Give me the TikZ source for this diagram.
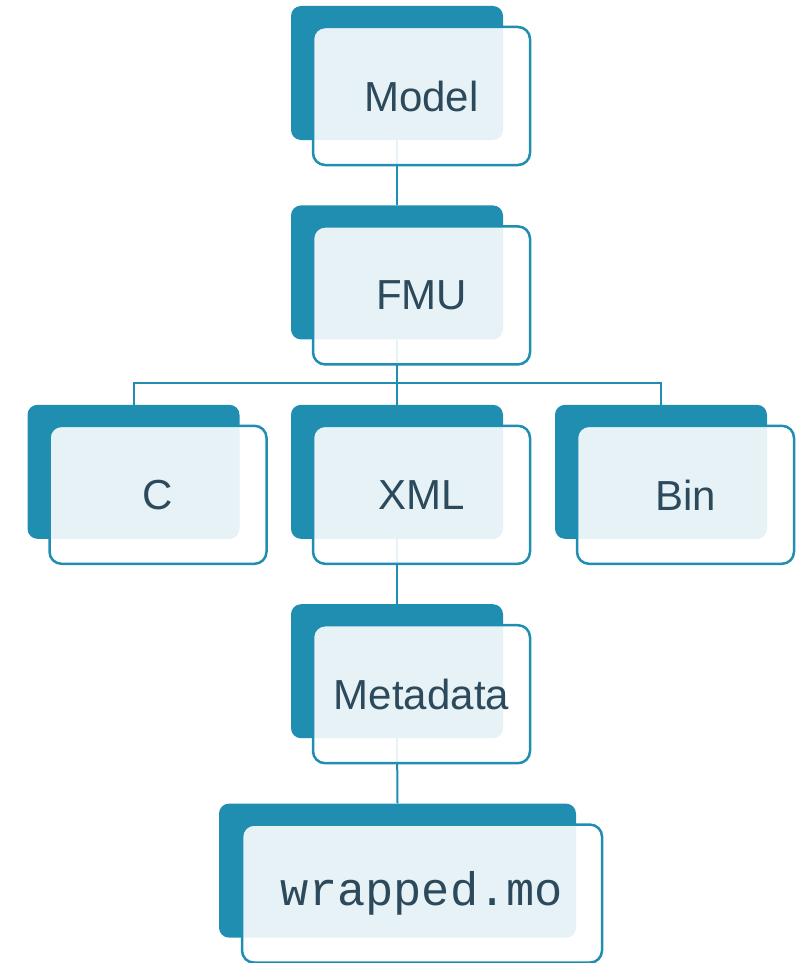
\documentclass[tikz,border=0pt]{standalone}
\usepackage{fontspec}
\setmainfont{Liberation Sans}
\setmonofont{Liberation Mono}
\pgfdeclarelayer{edges}
\pgfsetlayers{edges,main}
\definecolor{boxteal}{RGB}{31,142,176}
\definecolor{boxtext}{RGB}{44,74,92}
\tikzset{
  backbox/.style={fill=boxteal, draw=none, rounded corners=10pt,
    minimum width=212pt, minimum height=134pt, inner sep=0pt},
  frontbox/.style={draw=boxteal, line width=2.5pt, fill=white,
    fill opacity=0.89, text opacity=1, rounded corners=12pt,
    minimum width=217pt, minimum height=138pt, inner sep=0pt,
    text=boxtext, font=\fontsize{42}{50}\selectfont},
  link/.style={draw=boxteal, line width=2pt}
}
\begin{document}
\begin{tikzpicture}[x=1pt,y=-1pt]
\useasboundingbox (0,0) rectangle (798,963);
% level 1
\node[backbox] (modelB) at (397,73) {};
\node[frontbox] (model) at (421.5,96) {Model};
% level 2
\node[backbox] (fmuB) at (397,272.4) {};
\node[frontbox] (fmu) at (421.5,295.4) {FMU};
% level 3
\node[backbox] (cB) at (133.5,471.8) {};
\node[frontbox] (c) at (158,494.8) {C};
\node[backbox] (xmlB) at (397,471.8) {};
\node[frontbox] (xml) at (421.5,494.8) {XML};
\node[backbox] (binB) at (661,471.8) {};
\node[frontbox] (bin) at (685.5,494.8) {Bin};
% level 4
\node[backbox] (metaB) at (397,671.2) {};
\node[frontbox] (meta) at (421.5,694.2) {Metadata};
% level 5
\node[backbox, minimum width=357pt] (wrapB) at (397.5,870.6) {};
\node[frontbox, minimum width=360pt, font=\fontsize{47}{54}\ttfamily] (wrap) at (422,893.6) {wrapped.mo};
% connectors
\begin{pgfonlayer}{edges}
\draw[link] (modelB.south) -- (fmuB.north);
\draw[link] (fmuB.south) -- (xmlB.north);
\draw[link] (cB.north) -- ++(0,-22) -| (binB.north);
\draw[link] (xmlB.south) -- (metaB.north);
\draw[link] (metaB.south) -- (wrapB.north);
\end{pgfonlayer}
\end{tikzpicture}
\end{document}
